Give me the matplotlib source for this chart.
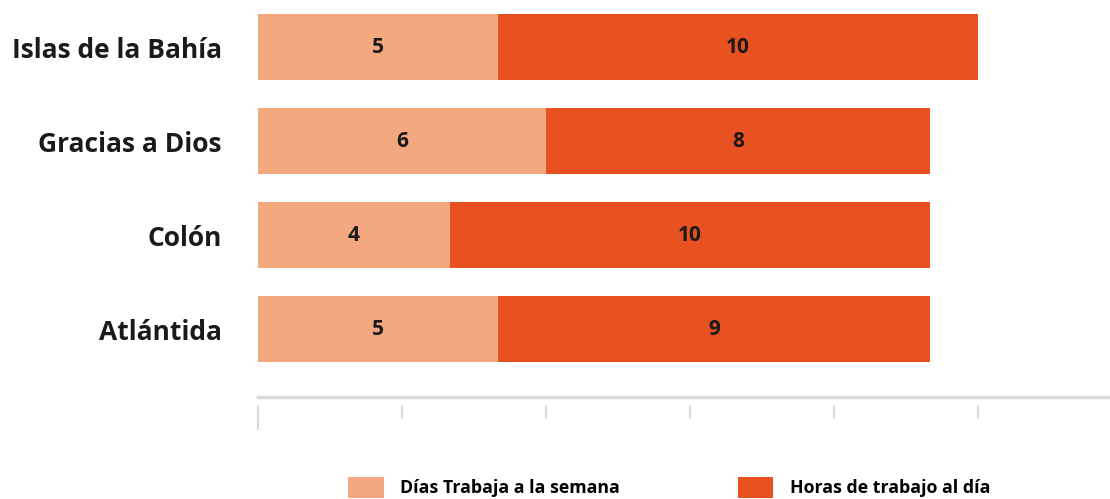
"""Días y horas de trabajo por departamento (barras apiladas horizontales)."""

import matplotlib.patches as mpatches
import matplotlib.pyplot as plt

# ── datos ─────────────────────────────────────────────────────────────
departamentos = ["Islas de la Bahía", "Gracias a Dios", "Colón", "Atlántida"]
dias_semana = [5, 6, 4, 5]
horas_dia = [10, 8, 10, 9]
ticks_x = [0, 3, 6, 9, 12, 15]

serie_nombres = ["Días Trabaja a la semana", "Horas de trabajo al día"]

# ── colores ───────────────────────────────────────────────────────────
C_LIGHT = "#F4A880"
C_DARK = "#E85221"
C_TEXT = "#1a1a1a"
C_AXIS = "#d9d9d9"

FONT = ["Open Sans", "DejaVu Sans"]
W = "bold"


def main():
    fig = plt.figure(figsize=(11.1, 4.99), dpi=100)
    ax = fig.add_axes([258 / 1110, 1 - 397 / 499, 1 - 258 / 1110, 397 / 499])

    ypos = list(range(len(departamentos)))
    h = 0.70
    ax.barh(ypos, dias_semana, height=h, color=C_LIGHT, zorder=2)
    ax.barh(ypos, horas_dia, left=dias_semana, height=h, color=C_DARK, zorder=2)

    for y, d, hr in zip(ypos, dias_semana, horas_dia):
        ax.text(d / 2, y, str(d), ha="center", va="center", fontsize=15,
                fontweight=W, color=C_TEXT, family=FONT, zorder=3)
        ax.text(d + hr / 2, y, str(hr), ha="center", va="center", fontsize=15,
                fontweight=W, color=C_TEXT, family=FONT, zorder=3)

    ax.set_xlim(0, 17.75)
    ax.set_ylim(3.723, -0.5)

    ax.set_yticks(ypos)
    ax.set_yticklabels(departamentos, fontsize=19, fontweight=W,
                       color=C_TEXT, family=FONT)
    ax.tick_params(axis="y", length=0, pad=26)

    # eje x: línea gris y marcas separadas debajo
    for s in ["top", "right", "left"]:
        ax.spines[s].set_visible(False)
    ax.spines["bottom"].set_position(("outward", 6))
    ax.spines["bottom"].set_color("none")
    ax.axhline(3.723, color=C_AXIS, lw=2.5, clip_on=False, zorder=1)

    ax.set_xticks(ticks_x)
    ax.set_xticklabels([])
    ax.tick_params(axis="x", length=10, width=1.5, color=C_AXIS)
    ax.xaxis.get_major_ticks()[0].tick1line.set_markersize(18)

    # ── leyenda ───────────────────────────────────────────────────────
    handles = [
        mpatches.Patch(facecolor=C_LIGHT, label=serie_nombres[0]),
        mpatches.Patch(facecolor=C_DARK, label=serie_nombres[1]),
    ]
    fig.legend(
        handles=handles,
        loc="upper left",
        bbox_to_anchor=(348 / 1110, 1 - 477 / 499),
        ncol=2,
        frameon=False,
        borderpad=0,
        borderaxespad=0,
        handlelength=2.0,
        handleheight=1.45,
        handletextpad=0.95,
        columnspacing=6.6,
        prop={"family": FONT, "weight": W, "size": 12.8},
    )

    fig.savefig("out.png", dpi=100)


if __name__ == "__main__":
    main()
